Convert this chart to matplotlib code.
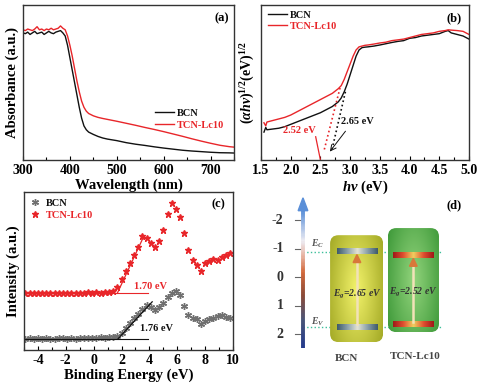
import matplotlib.pyplot as plt
import numpy as np
from matplotlib.patches import FancyBboxPatch, Polygon
from matplotlib.collections import LineCollection
from matplotlib.colors import LinearSegmentedColormap
from matplotlib.ticker import MultipleLocator

plt.rcParams['font.family'] = 'Liberation Serif'
plt.rcParams['font.weight'] = 'bold'
plt.rcParams['axes.labelweight'] = 'bold'
plt.rcParams['axes.unicode_minus'] = False
plt.rcParams['mathtext.fontset'] = 'custom'
plt.rcParams['mathtext.rm'] = 'Liberation Serif:bold'
plt.rcParams['mathtext.it'] = 'Liberation Serif:italic:bold'
plt.rcParams['mathtext.bf'] = 'Liberation Serif:bold'

RED = '#e8262a'
BLK = '#111111'

# ---------------- data ----------------
# (a) UV-vis absorbance
wl = [300, 305, 310, 315, 320, 325, 330, 335, 340, 345, 350, 355, 360, 365, 370, 375,
      380, 385, 390, 395, 400, 405, 410, 415, 420, 425, 430, 435, 440, 450, 460, 470,
      480, 500, 520, 540, 560, 580, 600, 620, 640, 660, 680, 700, 720, 740, 750]
abs_bcn = [0.82, 0.815, 0.825, 0.81, 0.82, 0.83, 0.815, 0.82, 0.825, 0.81, 0.82, 0.83,
           0.82, 0.815, 0.825, 0.83, 0.835, 0.82, 0.80, 0.74, 0.66, 0.58, 0.50, 0.42,
           0.34, 0.27, 0.22, 0.195, 0.18, 0.165, 0.152, 0.142, 0.135, 0.125, 0.112,
           0.102, 0.094, 0.085, 0.077, 0.070, 0.063, 0.058, 0.054, 0.050, 0.047, 0.046, 0.045]
abs_tcn = [0.84, 0.835, 0.845, 0.84, 0.835, 0.845, 0.86, 0.84, 0.845, 0.835, 0.845, 0.84,
           0.85, 0.84, 0.845, 0.85, 0.865, 0.85, 0.84, 0.80, 0.74, 0.67, 0.59, 0.51,
           0.44, 0.38, 0.34, 0.315, 0.30, 0.285, 0.275, 0.268, 0.262, 0.25, 0.237,
           0.224, 0.21, 0.197, 0.183, 0.168, 0.153, 0.137, 0.122, 0.108, 0.095, 0.086, 0.083]

# (b) Tauc plot
hv = [1.55, 1.58, 1.6, 1.7, 1.8, 1.9, 2.0, 2.1, 2.2, 2.3, 2.4, 2.5, 2.6, 2.7, 2.75, 2.8,
      2.85, 2.9, 2.95, 3.0, 3.05, 3.1, 3.15, 3.2, 3.25, 3.3, 3.4, 3.5, 3.6, 3.7, 3.8,
      3.9, 4.0, 4.1, 4.2, 4.3, 4.4, 4.5, 4.6, 4.65, 4.7, 4.8, 4.9, 5.0]
tauc_bcn = [0.18, 0.21, 0.195, 0.2, 0.205, 0.215, 0.23, 0.245, 0.26, 0.275, 0.29, 0.305,
            0.325, 0.345, 0.36, 0.375, 0.40, 0.44, 0.49, 0.55, 0.61, 0.67, 0.71, 0.725,
            0.728, 0.73, 0.735, 0.742, 0.75, 0.758, 0.765, 0.77, 0.785, 0.79, 0.80,
            0.805, 0.81, 0.815, 0.83, 0.835, 0.82, 0.81, 0.80, 0.78]
tauc_tcn = [0.24, 0.22, 0.245, 0.255, 0.265, 0.275, 0.29, 0.31, 0.33, 0.35, 0.37, 0.39,
            0.41, 0.43, 0.445, 0.46, 0.48, 0.52, 0.57, 0.62, 0.67, 0.71, 0.73, 0.735,
            0.74, 0.742, 0.748, 0.755, 0.76, 0.77, 0.775, 0.78, 0.79, 0.80, 0.81,
            0.815, 0.82, 0.83, 0.835, 0.84, 0.838, 0.835, 0.83, 0.81]

# (c) VB-XPS
be = [-4.9, -4.6, -4.3, -4.0, -3.7, -3.4, -3.1, -2.8, -2.5, -2.2, -1.9, -1.6, -1.3, -1.0,
      -0.7, -0.4, -0.1, 0.2, 0.5, 0.8, 1.1, 1.4, 1.7, 2.0, 2.3, 2.6, 2.9, 3.2, 3.5, 3.8,
      4.1, 4.4, 4.7, 5.0, 5.3, 5.6, 5.9, 6.2, 6.5, 6.8, 7.1, 7.4, 7.7, 8.0, 8.3, 8.6,
      8.9, 9.2, 9.5, 9.8]
xps_bcn = [0.072, 0.075, 0.070, 0.073, 0.071, 0.074, 0.072, 0.070, 0.075, 0.073, 0.071,
           0.074, 0.072, 0.076, 0.073, 0.075, 0.078, 0.077, 0.080, 0.079, 0.083, 0.082,
           0.088, 0.11, 0.14, 0.17, 0.20, 0.23, 0.26, 0.285, 0.27, 0.255, 0.27, 0.30,
           0.335, 0.36, 0.375, 0.35, 0.28, 0.22, 0.205, 0.195, 0.165, 0.185, 0.195,
           0.20, 0.215, 0.22, 0.21, 0.205]
xps_tcn = [0.36, 0.362, 0.358, 0.361, 0.359, 0.363, 0.36, 0.358, 0.362, 0.36, 0.359,
           0.362, 0.361, 0.363, 0.36, 0.364, 0.362, 0.365, 0.363, 0.366, 0.37, 0.375,
           0.40, 0.45, 0.50, 0.55, 0.60, 0.65, 0.72, 0.71, 0.68, 0.655, 0.69, 0.76,
           0.86, 0.93, 0.89, 0.84, 0.74, 0.63, 0.57, 0.54, 0.50, 0.55, 0.565, 0.575,
           0.57, 0.59, 0.60, 0.615]
vb_bcn, vb_tcn = 1.76, 1.70

# (d) band positions (eV)
bcn_cb, bcn_vb = -0.89, 1.76
tcn_cb, tcn_vb = -0.76, 1.66
e_ticks = [-2, -1, 0, 1, 2]

# ---------------- figure ----------------
W, H = 484, 390
fig = plt.figure(figsize=(W / 100, H / 100), dpi=100)


def box(l, t, r, b):
    return [l / W, 1 - b / H, (r - l) / W, (b - t) / H]


def style(ax):
    for s in ax.spines.values():
        s.set_color('#333333')
        s.set_linewidth(1.0)
    ax.tick_params(which='both', direction='in', labelsize=10, pad=3, width=0.8)
    ax.tick_params(which='major', length=3)
    ax.tick_params(which='minor', length=2)
    ax.set_yticks([])


def color_legend(leg):
    for txt, c in zip(leg.get_texts(), [BLK, RED]):
        txt.set_color(c)


# (a)
ax_a = fig.add_axes(box(23, 5, 234, 160))
ax_a.plot(wl, abs_bcn, color=BLK, lw=1.0, label='BCN')
ax_a.plot(wl, abs_tcn, color=RED, lw=1.0, label='TCN-Lc10')
ax_a.set_xlim(300, 750)
ax_a.set_ylim(0, 1)
ax_a.xaxis.set_major_locator(MultipleLocator(100))
ax_a.xaxis.set_minor_locator(MultipleLocator(50))
style(ax_a)
ax_a.set_xlabel('Wavelength (nm)', fontsize=10.5, labelpad=1)
ax_a.set_ylabel('Absorbance (a.u.)', fontsize=10.5, labelpad=3)
ax_a.text(0.94, 0.915, '(a)', transform=ax_a.transAxes, ha='center', va='center', fontsize=9)
leg = ax_a.legend(loc='upper left', bbox_to_anchor=(0.625, 0.33), frameon=False, fontsize=7.5,
                  handlelength=1.8, handletextpad=0.3, labelspacing=0.2, borderpad=0, borderaxespad=0)
color_legend(leg)

# (b)
ax_b = fig.add_axes(box(261, 5, 469, 160))
ax_b.plot(hv, tauc_bcn, color=BLK, lw=1.0, label='BCN')
ax_b.plot(hv, tauc_tcn, color=RED, lw=1.0, label='TCN-Lc10')
ax_b.plot([2.83, 2.56], [0.465, 0.06], color=RED, ls=':', lw=1.2)
ax_b.plot([2.92, 2.69], [0.44, 0.06], color=BLK, ls=':', lw=1.2)
ax_b.plot([2.42, 2.50], [0.15, 0.0], color=RED, lw=0.9)
ax_b.annotate('', xy=(2.63, 0.04), xytext=(2.95, 0.2),
              arrowprops=dict(arrowstyle='->', color=BLK, lw=0.7))
ax_b.text(2.15, 0.19, '2.52 eV', color=RED, fontsize=7.5, ha='center', va='center')
ax_b.text(3.12, 0.25, '2.65 eV', color=BLK, fontsize=7.5, ha='center', va='center')
ax_b.set_xlim(1.5, 5.0)
ax_b.set_ylim(0, 1)
ax_b.xaxis.set_major_locator(MultipleLocator(0.5))
ax_b.xaxis.set_minor_locator(MultipleLocator(0.25))
style(ax_b)
ax_b.set_xlabel(r'$h\nu$ (eV)', fontsize=10.5, labelpad=1)
ax_b.set_ylabel(r'$(\alpha h\nu)^{1/2}(\mathrm{eV})^{1/2}$', fontsize=10, labelpad=3)
ax_b.text(0.93, 0.915, '(b)', transform=ax_b.transAxes, ha='center', va='center', fontsize=9)
leg = ax_b.legend(loc='upper left', bbox_to_anchor=(0.034, 0.965), frameon=False, fontsize=7.5,
                  handlelength=1.8, handletextpad=0.3, labelspacing=0.2, borderpad=0, borderaxespad=0)
color_legend(leg)

# (c)
ax_c = fig.add_axes(box(24, 192, 233, 350))
ax_c.plot(be, xps_bcn, ls='none', marker=(6, 2, 0), ms=5, mew=1.0, color='#707070', label='BCN')
ax_c.plot(be, xps_tcn, ls='none', marker='*', ms=5, color=RED, label='TCN-Lc10')
ax_c.plot([-4.9, 3.9], [0.072, 0.072], color=BLK, lw=0.8)
ax_c.plot([vb_bcn, 4.2], [0.072, 0.305], color=BLK, lw=0.9)
ax_c.plot([-4.9, 3.9], [0.36, 0.36], color=RED, lw=0.8)
ax_c.plot([vb_tcn, 3.6], [0.36, 0.72], color=RED, lw=0.9)
ax_c.text(4.1, 0.40, '1.70 eV', color=RED, fontsize=7.5, ha='center', va='center')
ax_c.text(4.5, 0.135, '1.76 eV', color=BLK, fontsize=7.5, ha='center', va='center')
ax_c.set_xlim(-5, 10)
ax_c.set_ylim(0, 1)
ax_c.xaxis.set_major_locator(MultipleLocator(2))
ax_c.xaxis.set_minor_locator(MultipleLocator(1))
style(ax_c)
ax_c.set_xlabel('Binding Energy (eV)', fontsize=10.5, labelpad=1)
ax_c.set_ylabel('Intensity (a.u.)', fontsize=10.5, labelpad=3)
ax_c.text(0.93, 0.92, '(c)', transform=ax_c.transAxes, ha='center', va='center', fontsize=9)
leg = ax_c.legend(loc='upper left', bbox_to_anchor=(0.03, 0.96), frameon=False, fontsize=7.5,
                  handlelength=1.0, handletextpad=0.5, labelspacing=0.3, borderpad=0, borderaxespad=0)
color_legend(leg)

# (d) band diagram
ax_d = fig.add_axes(box(242, 195, 484, 370))
ax_d.axis('off')
x_axis = 2.52

# gradient energy axis
axis_cmap = LinearSegmentedColormap.from_list('ax', [
    (0.0, '#233a8c'), (0.2, '#4a5578'), (0.38, '#8a4a38'), (0.55, '#d2683a'),
    (0.68, '#e8b8a8'), (0.78, '#ecebf2'), (1.0, '#5a8fd8')])
e_line = np.linspace(2.49, -2.35, 120)
pts = np.column_stack([np.full_like(e_line, x_axis), e_line]).reshape(-1, 1, 2)
segs = np.concatenate([pts[:-1], pts[1:]], axis=1)
lc = LineCollection(segs, cmap=axis_cmap, linewidth=2.8, zorder=3)
lc.set_array(np.linspace(0, 1, len(segs)))
ax_d.add_collection(lc)
ax_d.add_patch(Polygon([[x_axis - 0.2, -2.33], [x_axis + 0.2, -2.33], [x_axis, -2.78]],
                       closed=True, color='#5a8fd8', zorder=3))
for e in e_ticks:
    ax_d.plot([2.2, x_axis], [e, e], color='#666666', lw=0.8, zorder=2)
    ax_d.text(1.72, e, f'{e:d}', ha='right', va='center', fontsize=10, color='#333333')

# reference levels
ax_d.plot([x_axis, 8.26], [bcn_cb, bcn_cb], ls=':', color='#3cbf9a', lw=1.0, zorder=0.5)
ax_d.plot([x_axis, 8.26], [bcn_vb, bcn_vb], ls=':', color='#3cbf9a', lw=1.0, zorder=0.5)
ax_d.text(2.85, -1.17, r'$E_C$', fontsize=7, color='#555555', ha='left', va='center')
ax_d.text(2.85, 1.56, r'$E_V$', fontsize=7, color='#555555', ha='left', va='center')


def gradient_box(x0, x1, y0, y1, c_center, c_edge):
    patch = FancyBboxPatch((x0, y0), x1 - x0, y1 - y0,
                           boxstyle='round,pad=0,rounding_size=0.35', mutation_aspect=0.85,
                           facecolor='none', edgecolor='none', zorder=1)
    ax_d.add_patch(patch)
    gx, gy = np.meshgrid(np.linspace(-1, 1, 60), np.linspace(-1, 1, 120))
    r = np.sqrt(gx ** 2 + 0.5 * gy ** 2)
    cmap = LinearSegmentedColormap.from_list('bx', [c_center, c_edge])
    im = ax_d.imshow(r, extent=(x0, x1, y1, y0), cmap=cmap, vmin=0, vmax=1.2,
                     aspect='auto', interpolation='bilinear', zorder=1)
    im.set_clip_path(patch)


def level_bar(xc, e, colors):
    cmap = LinearSegmentedColormap.from_list('lv', colors)
    ax_d.imshow(np.linspace(0, 1, 64)[None, :], extent=(xc - 0.84, xc + 0.84, e + 0.09, e - 0.09),
                cmap=cmap, aspect='auto', interpolation='bilinear', zorder=2)


def gap_arrow(xc, cb, vb):
    ax_d.plot([xc, xc], [vb - 0.1, cb + 0.3], color='#f2e2b8', lw=1.8, zorder=2)
    ax_d.add_patch(Polygon([[xc - 0.16, cb + 0.38], [xc + 0.16, cb + 0.38], [xc, cb + 0.1]],
                           closed=True, color='#d8783a', zorder=2))


bcn_bar = ['#3f5b6b', '#8aa0a8', '#e4e4d4', '#8aa0a8', '#3f5b6b']
tcn_bar = ['#a01818', '#e05030', '#f0d060', '#e05030', '#a01818']

gradient_box(3.64, 5.83, -1.47, 2.28, '#f2f26a', '#a4aa26')
gradient_box(6.03, 8.14, -1.72, 1.93, '#92d47c', '#3f9a3a')
level_bar(4.75, bcn_cb, bcn_bar)
level_bar(4.75, bcn_vb, bcn_bar)
level_bar(7.08, tcn_cb, tcn_bar)
level_bar(7.08, tcn_vb, tcn_bar)
gap_arrow(4.75, bcn_cb, bcn_vb)
gap_arrow(7.08, tcn_cb, tcn_vb)
ax_d.text(4.75, 0.6, r'$E_g$=2.65 eV', fontsize=7, color='#333333', ha='center', va='center',
          style='italic', zorder=4)
ax_d.text(7.08, 0.55, r'$E_g$=2.52 eV', fontsize=7, color='#333333', ha='center', va='center',
          style='italic', zorder=4)
ax_d.text(4.3, 2.84, 'BCN', fontsize=8, color='#444444', ha='center', va='center')
ax_d.text(7.15, 2.8, 'TCN-Lc10', fontsize=8, color='#444444', ha='center', va='center')
ax_d.text(8.76, -2.53, '(d)', fontsize=9, ha='center', va='center')

ax_d.set_xlim(0, 10)
ax_d.set_ylim(3.26, -2.88)

fig.savefig('out.png', dpi=100)
